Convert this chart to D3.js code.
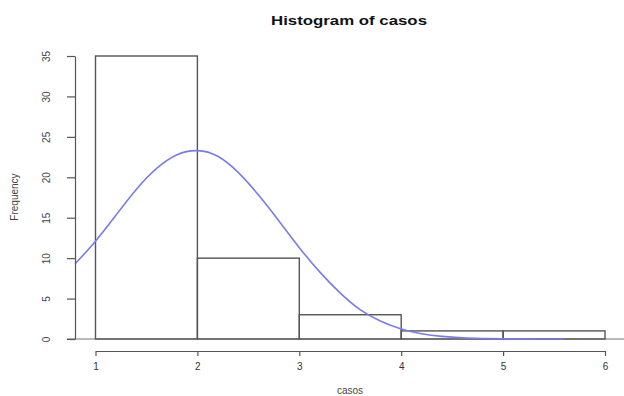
<!DOCTYPE html>
<html lang="en">
<head>
<meta charset="UTF-8">
<title>Histogram of casos</title>
<script src="https://cdn.jsdelivr.net/npm/d3@7"></script>
<style>
    body { margin: 0; background: #fff; }
    text { font-family: "Liberation Sans", Arial, sans-serif; fill: #333; }
    .bar { fill: none; stroke: #555; stroke-width: 1.4px; }
    .axis path, .axis line { stroke: #555; stroke-width: 1.2px; }
    .density { fill: none; stroke: #7a7af0; stroke-width: 1.6px; }
</style>
</head>
<body>
<div id="chart"></div>
<script>
    // histogram bins (breaks) and counts
    var binStarts = [1, 2, 3, 4, 5];
    var binEnds = [2, 3, 4, 5, 6];
    var counts = [35, 10, 3, 1, 1];

    // fitted curve
    var curveX = [0.8, 1.0, 1.2, 1.4, 1.6, 1.8, 2.0, 2.2, 2.4, 2.6, 2.8, 3.0, 3.2, 3.4, 3.6, 3.8, 4.0, 4.2, 4.4, 4.6, 4.8, 5.0, 5.2, 5.4, 5.6];
    var curveY = [9.3, 12.1, 15.3, 18.5, 21.1, 22.8, 23.3, 22.6, 20.6, 17.8, 14.6, 11.3, 8.3, 5.7, 3.6, 2.2, 1.25, 0.65, 0.32, 0.14, 0.06, 0.02, 0.01, 0.0, 0.0];

    var xTicks = [1, 2, 3, 4, 5, 6];
    var yTicks = [0, 5, 10, 15, 20, 25, 30, 35];

    var width = 624, height = 396;

    var x = d3.scaleLinear().domain([1, 6]).range([95.5, 605]);
    var y = d3.scaleLinear().domain([0, 35]).range([339, 56]);

    var svg = d3.select("#chart").append("svg")
        .attr("width", width)
        .attr("height", height);

    // title
    svg.append("text")
        .attr("x", 349)
        .attr("y", 25)
        .attr("text-anchor", "middle")
        .attr("textLength", 156)
        .attr("lengthAdjust", "spacingAndGlyphs")
        .style("font-size", "13px")
        .style("font-weight", "bold")
        .style("fill", "#111")
        .text("Histogram of casos");

    // baseline
    svg.append("line")
        .attr("x1", 67).attr("x2", width)
        .attr("y1", y(0)).attr("y2", y(0))
        .attr("stroke", "#bbb")
        .attr("stroke-width", 2);

    // bars
    var bins = counts.map(function(c, i) { return {x0: binStarts[i], x1: binEnds[i], n: c}; });
    svg.selectAll(".bar")
        .data(bins)
        .enter().append("rect")
        .attr("class", "bar")
        .attr("x", function(d) { return x(d.x0); })
        .attr("width", function(d) { return x(d.x1) - x(d.x0); })
        .attr("y", function(d) { return y(d.n); })
        .attr("height", function(d) { return y(0) - y(d.n); });

    // density curve
    var pts = curveX.map(function(v, i) { return [v, curveY[i]]; });
    var line = d3.line()
        .x(function(d) { return x(d[0]); })
        .y(function(d) { return y(d[1]); })
        .curve(d3.curveNatural);
    svg.append("path")
        .datum(pts)
        .attr("class", "density")
        .attr("d", line);

    // x axis
    var xAxis = svg.append("g")
        .attr("class", "axis")
        .attr("transform", "translate(0,351)")
        .call(d3.axisBottom(x).tickValues(xTicks).tickSize(5).tickSizeOuter(0).tickPadding(7).tickFormat(d3.format("d")));
    xAxis.selectAll("text").style("font-size", "10px").style("fill", "#333");

    // y axis, labels parallel to the axis like R
    var yAxis = svg.append("g")
        .attr("class", "axis")
        .attr("transform", "translate(75,0)")
        .call(d3.axisLeft(y).tickValues(yTicks).tickSize(8).tickSizeOuter(0).tickFormat(d3.format("d")));
    yAxis.selectAll("text")
        .style("font-size", "10px")
        .style("fill", "#444")
        .attr("text-anchor", "middle")
        .attr("x", 0)
        .attr("y", 0)
        .attr("dy", 0)
        .attr("transform", "translate(-25,0) rotate(-90)");

    // axis titles
    svg.append("text")
        .attr("x", 350)
        .attr("y", 394)
        .attr("text-anchor", "middle")
        .style("font-size", "10px")
        .style("fill", "#444")
        .text("casos");

    svg.append("text")
        .attr("transform", "translate(18,197) rotate(-90)")
        .attr("text-anchor", "middle")
        .style("font-size", "10px")
        .style("fill", "#444")
        .text("Frequency");
</script>
</body>
</html>
